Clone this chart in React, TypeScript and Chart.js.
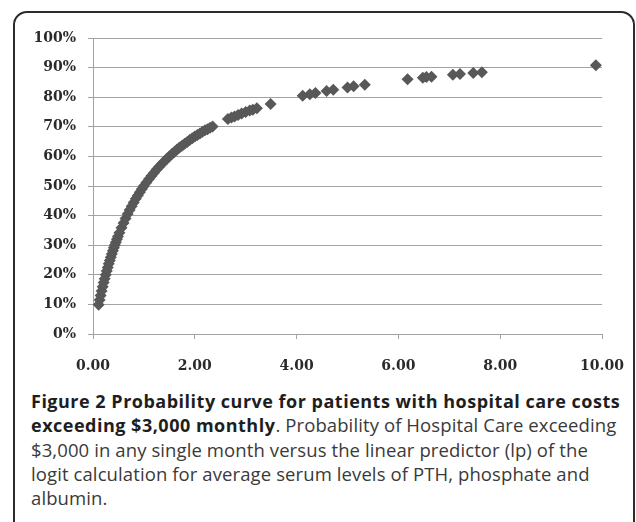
import React, { useEffect, useRef } from "react";
import { Chart, registerables } from "chart.js";

Chart.register(...registerables);

// Linear predictor (x) and probability in % (y)
const lpValues: number[] = [
  0.11, 0.13, 0.15, 0.17, 0.19, 0.21, 0.23, 0.25, 0.27, 0.29,
  0.31, 0.33, 0.35, 0.37, 0.39, 0.41, 0.43, 0.45, 0.47, 0.49,
  0.52, 0.56, 0.6, 0.64, 0.68, 0.72, 0.76, 0.8, 0.84, 0.88, 0.92, 0.96, 1.0,
  1.05, 1.1, 1.15, 1.2, 1.25, 1.3, 1.35, 1.4, 1.45, 1.5, 1.55, 1.6, 1.65,
  1.7, 1.75, 1.8, 1.85, 1.9, 1.95, 2.0, 2.05, 2.1, 2.15, 2.2, 2.25, 2.3, 2.35,
  2.65, 2.72, 2.78, 2.85, 2.92, 3.0, 3.08, 3.14, 3.22,
  3.49, 4.12, 4.26, 4.37, 4.59, 4.72, 5.0, 5.12, 5.34,
  6.18, 6.48, 6.55, 6.65, 7.07, 7.21, 7.47, 7.64, 9.88,
];

const probValues: number[] = [
  9.9, 11.5, 13.0, 14.5, 16.0, 17.4, 18.7, 20.0, 21.3, 22.5,
  23.7, 24.8, 25.9, 27.0, 28.1, 29.1, 30.1, 31.0, 32.0, 32.9,
  34.2, 35.9, 37.5, 39.0, 40.5, 41.9, 43.2, 44.4, 45.7, 46.8, 47.9, 49.0, 50.0,
  51.2, 52.4, 53.5, 54.5, 55.6, 56.5, 57.4, 58.3, 59.2, 60.0, 60.8, 61.5, 62.3,
  63.0, 63.6, 64.3, 64.9, 65.5, 66.1, 66.7, 67.2, 67.7, 68.3, 68.8, 69.2, 69.7, 70.1,
  72.6, 73.1, 73.5, 74.0, 74.5, 75.0, 75.5, 75.8, 76.3,
  77.7, 80.5, 81.0, 81.4, 82.1, 82.5, 83.3, 83.7, 84.2,
  86.1, 86.6, 86.8, 86.9, 87.6, 87.8, 88.2, 88.4, 90.8,
];

const xTickValues: number[] = [0, 2, 4, 6, 8, 10];
const yTickValues: number[] = [0, 10, 20, 30, 40, 50, 60, 70, 80, 90, 100];

const captionBold1 = "Figure 2 Probability curve for patients with hospital care costs";
const captionBold2 = "exceeding $3,000 monthly";
const captionRest2 = ". Probability of Hospital Care exceeding";
const captionLines: string[] = [
  "$3,000 in any single month versus the linear predictor (lp) of the",
  "logit calculation for average serum levels of PTH, phosphate and",
  "albumin.",
];

const GRID = "#a3a3a3";
const MARK = "#585858";

export default function App() {
  const canvasRef = useRef<HTMLCanvasElement | null>(null);

  useEffect(() => {
    const canvas = canvasRef.current;
    if (!canvas) return;
    const points = lpValues.map((x, i) => ({ x, y: probValues[i] }));
    const tickFont = { family: "'DejaVu Serif'", size: 14, weight: "bold" as const };
    const chart = new Chart(canvas, {
      type: "scatter",
      data: {
        datasets: [
          {
            data: points,
            pointStyle: "rectRot",
            pointRadius: 6,
            pointHoverRadius: 6,
            pointBackgroundColor: MARK,
            pointBorderColor: MARK,
            pointBorderWidth: 0,
          },
        ],
      },
      options: {
        animation: false,
        responsive: false,
        devicePixelRatio: 1,
        events: [],
        layout: { padding: { top: 38, right: 34, bottom: 0, left: 0 } },
        plugins: { legend: { display: false }, tooltip: { enabled: false } },
        scales: {
          x: {
            type: "linear",
            min: 0,
            max: 10,
            afterFit: (s: any) => {
              s.height = 51;
              s.paddingLeft = 0;
              s.paddingRight = 0;
            },
            afterBuildTicks: (s: any) => {
              s.ticks = xTickValues.map((v) => ({ value: v }));
            },
            ticks: {
              padding: 19,
              color: "#2a2a2a",
              font: tickFont,
              maxRotation: 0,
              callback: (v: any) => Number(v).toFixed(2),
            },
            grid: {
              drawOnChartArea: false,
              drawTicks: true,
              tickLength: 5,
              color: GRID,
              lineWidth: 1,
            },
            border: { display: true, color: GRID, width: 1 },
          },
          y: {
            type: "linear",
            min: 0,
            max: 100,
            afterFit: (s: any) => {
              s.width = 93;
              s.paddingTop = 0;
              s.paddingBottom = 0;
            },
            afterBuildTicks: (s: any) => {
              s.ticks = yTickValues.map((v) => ({ value: v }));
            },
            ticks: {
              padding: 12,
              color: "#2a2a2a",
              font: tickFont,
              callback: (v: any) => `${v}%`,
            },
            grid: {
              drawTicks: true,
              tickLength: 5,
              color: GRID,
              lineWidth: 1,
            },
            border: { display: true, color: GRID, width: 1 },
          },
        },
      },
    });
    return () => chart.destroy();
  }, []);

  const captionStyle: React.CSSProperties = {
    position: "absolute",
    left: 31,
    top: 389,
    fontFamily: "'Open Sans', sans-serif",
    fontSize: 18.5,
    letterSpacing: "0.1px",
    lineHeight: "24.3px",
    color: "#3a3a3a",
    whiteSpace: "nowrap",
  };
  const boldStyle: React.CSSProperties = {
    fontWeight: 700,
    fontSize: 18,
    color: "#1e1e1e",
    letterSpacing: "0.5px",
  };

  return (
    <div
      style={{
        position: "absolute",
        left: 0,
        top: 0,
        width: 636,
        height: 522,
        overflow: "hidden",
        background: "#ffffff",
      }}
    >
      <div
        style={{
          position: "absolute",
          left: 13,
          top: 11,
          width: 622,
          height: 560,
          border: "2px solid #2b2b2b",
          borderRadius: 14,
          boxSizing: "border-box",
        }}
      />
      <canvas
        ref={canvasRef}
        width={636}
        height={385}
        style={{ position: "absolute", left: 0, top: 0, width: 636, height: 385 }}
      />
      <div style={captionStyle}>
        <div>
          <span style={boldStyle}>{captionBold1}</span>
        </div>
        <div>
          <span style={boldStyle}>{captionBold2}</span>
          {captionRest2}
        </div>
        {captionLines.map((l, i) => (
          <div key={i}>{l}</div>
        ))}
      </div>
    </div>
  );
}
